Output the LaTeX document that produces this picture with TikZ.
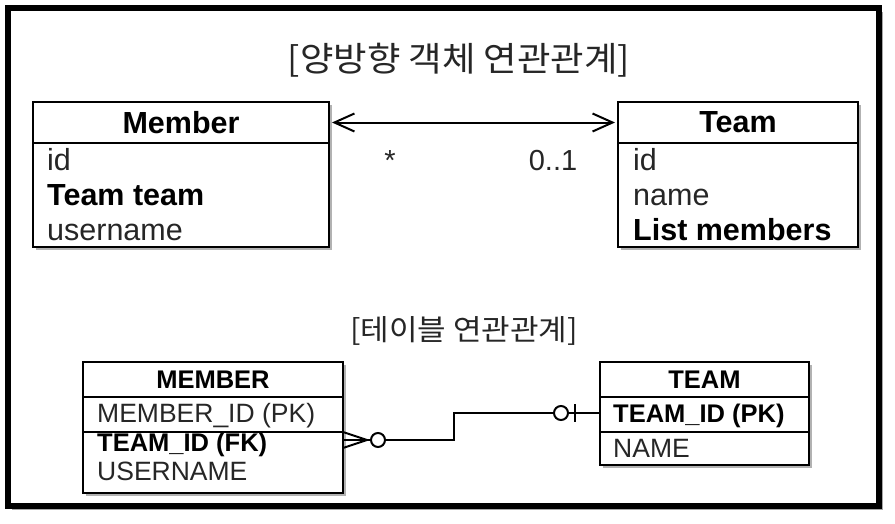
\documentclass[tikz,border=0pt]{standalone}
\usepackage{fontspec}
\setmainfont{Liberation Sans}
\newfontfamily\kr{Noto Sans CJK KR}
\usetikzlibrary{arrows.meta,shadows,calc}
\begin{document}
\begin{tikzpicture}[x=1pt,y=-1pt,
  shad/.style={drop shadow={shadow xshift=3pt,shadow yshift=-3pt,opacity=0.3,fill=black}},
  box/.style={draw,line width=2.2pt,fill=white,shad,inner sep=0pt,outer sep=0pt},
  headbox/.style={inner sep=0pt,outer sep=0pt},
  rowbox/.style={inner sep=0pt,outer sep=0pt},
  sep/.style={line width=2.2pt},
  bigtitle/.style={font=\fontsize{30.5}{30.5}\selectfont\bfseries},
  bigfield/.style={font=\fontsize{30.5}{30.5}\selectfont,text=black!85,anchor=base west,inner sep=0pt},
  bigbold/.style={font=\fontsize{30.5}{30.5}\selectfont\bfseries,anchor=base west,inner sep=0pt},
  smalltitle/.style={font=\fontsize{25.5}{25.5}\selectfont\bfseries},
  smallfield/.style={font=\fontsize{26.5}{26.5}\selectfont,text=black!85,anchor=base west,inner sep=0pt},
  smallbold/.style={font=\fontsize{25.5}{25.5}\selectfont\bfseries,anchor=base west,inner sep=0pt},
  krtitle/.style={text=black!85,inner sep=0pt},
  conn/.style={line width=2pt},
  biarrow/.style={line width=2pt,{Straight Barb[length=20pt,width=18pt]}-{Straight Barb[length=20pt,width=18pt]}},
  mult/.style={font=\fontsize{29}{29}\selectfont,text=black!85,anchor=base,inner sep=0pt}
]
\useasboundingbox (0,0) rectangle (895,523);
% outer frame
\draw[line width=6pt,fill=white,drop shadow={shadow xshift=4pt,shadow yshift=-4pt,opacity=0.35,fill=black}] (8,8) rectangle (879,506);

% titles
\node[krtitle] (title1) at (459,60) {\scalebox{1.07}[1]{\kr\fontsize{34}{34}\selectfont [양방향 객체 연관관계]}};
\node[krtitle] (title2) at (464,331) {\scalebox{1.07}[1]{\kr\fontsize{29}{29}\selectfont [테이블 연관관계]}};

% ===== Member class =====
\node[box,minimum width=296pt,minimum height=145pt] (mbox) at (181,174.5) {};
\node[headbox,minimum width=296pt,minimum height=41pt,bigtitle] (mhead) at (181,122.5) {Member};
\draw[sep] (mhead.south west) -- (mhead.south east);
\node[bigfield] (mid) at (47,170) {id};
\node[bigbold] (mteam) at (47,205) {Team team};
\node[bigfield] (muser) at (47,240) {username};

% ===== Team class =====
\node[box,minimum width=240pt,minimum height=145pt] (tbox) at (738,174.5) {};
\node[headbox,minimum width=240pt,minimum height=41pt,bigtitle] (thead) at (738,122.5) {Team};
\draw[sep] (thead.south west) -- (thead.south east);
\node[bigfield] (tid) at (633,170) {id};
\node[bigfield] (tname) at (633,205) {name};
\node[bigbold] (tlist) at (633,240) {List members};

% association
\draw[biarrow,shorten <=3pt,shorten >=3pt] (mhead.east) -- (thead.west);
\node[mult] (mstar) at (390,170) {*};
\node[mult] (tmult) at (553,170) {0..1};

% ===== MEMBER table =====
\node[box,minimum width=260pt,minimum height=131pt] (MBOX) at (213,427.5) {};
\node[headbox,minimum width=260pt,minimum height=35pt,smalltitle] (MHEAD) at (213,379.5) {MEMBER};
\draw[sep] (MHEAD.south west) -- (MHEAD.south east);
\node[rowbox,minimum width=260pt,minimum height=35pt] (MPK) at (213,414.5) {};
\draw[sep] (MPK.south west) -- (MPK.south east);
\node[smallfield] (mpktext) at (97,422) {MEMBER\_ID (PK)};
\node[smallbold] (mfktext) at (97,451) {TEAM\_ID (FK)};
\node[smallfield] (musertext) at (97,480) {USERNAME};
\node[rowbox,minimum width=260pt,minimum height=16pt] (mfkrow) at (213,440) {};

% ===== TEAM table =====
\node[box,minimum width=209pt,minimum height=103pt] (TBOX) at (704.5,413.5) {};
\node[headbox,minimum width=209pt,minimum height=35pt,smalltitle] (THEAD) at (704.5,379.5) {TEAM};
\draw[sep] (THEAD.south west) -- (THEAD.south east);
\node[rowbox,minimum width=209pt,minimum height=35pt] (TPK) at (704.5,414.5) {};
\draw[sep] (TPK.south west) -- (TPK.south east);
\node[smallbold] (tpktext) at (613,422) {TEAM\_ID (PK)};
\node[smallfield] (tnametext) at (613,457) {NAME};
\node[rowbox,minimum width=209pt,minimum height=16pt] (tpkrow) at (704.5,413) {};

% relationship
\draw[conn] (mfkrow.east) -- ++(111,0) |- (tpkrow.west);
\draw[conn] ($(mfkrow.east)+(0,-8)$) -- ($(mfkrow.east)+(24,0)$) -- ($(mfkrow.east)+(0,8)$);
\draw[conn,fill=white] ($(mfkrow.east)+(35,0)$) circle[radius=7pt];
\draw[conn,fill=white] ($(tpkrow.west)+(-39,0)$) circle[radius=7pt];
\draw[conn] ($(tpkrow.west)+(-25,-9)$) -- ($(tpkrow.west)+(-25,9)$);
\end{tikzpicture}
\end{document}
